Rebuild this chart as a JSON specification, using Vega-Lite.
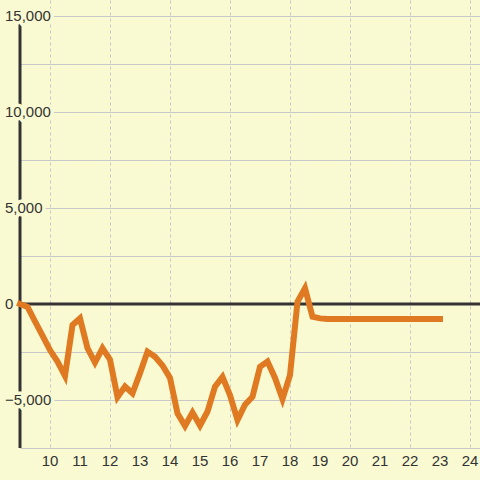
{
  "$schema": "https://vega.github.io/schema/vega-lite/v6.json",
  "width": 460,
  "height": 448,
  "autosize": {"type": "none"},
  "padding": {"left": 20, "top": 0, "right": 0, "bottom": 32},
  "background": "#fafad2",
  "config": {
    "view": {"stroke": null},
    "font": "Liberation Sans"
  },
  "datasets": {
    "series": [
      {"t": 9.0, "v": 0}, {"t": 9.25, "v": -150}, {"t": 9.5, "v": -900}, {"t": 9.75, "v": -1650},
      {"t": 10.0, "v": -2400}, {"t": 10.25, "v": -3000}, {"t": 10.5, "v": -3750}, {"t": 10.75, "v": -1100},
      {"t": 11.0, "v": -750}, {"t": 11.25, "v": -2300}, {"t": 11.5, "v": -3050}, {"t": 11.75, "v": -2300},
      {"t": 12.0, "v": -2900}, {"t": 12.25, "v": -4850}, {"t": 12.5, "v": -4300}, {"t": 12.75, "v": -4650},
      {"t": 13.0, "v": -3600}, {"t": 13.25, "v": -2480}, {"t": 13.5, "v": -2750}, {"t": 13.75, "v": -3200},
      {"t": 14.0, "v": -3850}, {"t": 14.25, "v": -5700}, {"t": 14.5, "v": -6350}, {"t": 14.75, "v": -5650},
      {"t": 15.0, "v": -6330}, {"t": 15.25, "v": -5600}, {"t": 15.5, "v": -4300}, {"t": 15.75, "v": -3800},
      {"t": 16.0, "v": -4750}, {"t": 16.25, "v": -6050}, {"t": 16.5, "v": -5250}, {"t": 16.75, "v": -4830},
      {"t": 17.0, "v": -3270}, {"t": 17.25, "v": -3000}, {"t": 17.5, "v": -3850}, {"t": 17.75, "v": -4950},
      {"t": 18.0, "v": -3700}, {"t": 18.25, "v": 120}, {"t": 18.5, "v": 820}, {"t": 18.75, "v": -660},
      {"t": 19.0, "v": -750}, {"t": 19.25, "v": -780}, {"t": 19.5, "v": -780}, {"t": 19.75, "v": -780},
      {"t": 20.0, "v": -780}, {"t": 20.25, "v": -780}, {"t": 20.5, "v": -780}, {"t": 20.75, "v": -780},
      {"t": 21.0, "v": -780}, {"t": 21.25, "v": -780}, {"t": 21.5, "v": -780}, {"t": 21.75, "v": -780},
      {"t": 22.0, "v": -780}, {"t": 22.25, "v": -780}, {"t": 22.5, "v": -780}, {"t": 22.75, "v": -780},
      {"t": 23.0, "v": -780}
    ],
    "yticks": [{"v": 15000}, {"v": 10000}, {"v": 5000}, {"v": 0}, {"v": -5000}],
    "xticks": [{"t": 10}, {"t": 11}, {"t": 12}, {"t": 13}, {"t": 14}, {"t": 15}, {"t": 16}, {"t": 17}, {"t": 18}, {"t": 19}, {"t": 20}, {"t": 21}, {"t": 22}, {"t": 23}, {"t": 24}],
    "one": [{}]
  },
  "layer": [
    {
      "data": {"name": "series"},
      "mark": {"type": "line", "opacity": 0},
      "encoding": {
        "x": {
          "field": "t", "type": "quantitative",
          "scale": {"domain": [9, 24.3333], "nice": false, "zero": false},
          "axis": {
            "values": [10, 11, 12, 13, 14, 15, 16, 17, 18, 19, 20, 21, 22, 23, 24],
            "labels": false,
            "title": null, "domain": false, "ticks": false,
            "grid": true, "gridColor": "#c8c8c8", "gridDash": [3, 3], "gridWidth": 1
          }
        },
        "y": {
          "field": "v", "type": "quantitative",
          "scale": {"domain": [-7500, 15833], "nice": false, "zero": false},
          "axis": {
            "values": [-7500, -5000, -2500, 0, 2500, 5000, 7500, 10000, 12500, 15000],
            "title": null, "domain": false, "ticks": false, "labels": false,
            "grid": true, "gridColor": "#c8c8c8", "gridWidth": 1
          }
        }
      }
    },
    {
      "data": {"name": "one"},
      "mark": {"type": "rule", "color": "#333333", "strokeWidth": 3},
      "encoding": {
        "x": {"datum": 9, "type": "quantitative"},
        "y": {"datum": -7500, "type": "quantitative"},
        "y2": {"datum": 15000}
      }
    },
    {
      "data": {"name": "one"},
      "mark": {"type": "rule", "color": "#333333", "strokeWidth": 3},
      "encoding": {
        "y": {"datum": 0, "type": "quantitative"}
      }
    },
    {
      "data": {"name": "yticks"},
      "mark": {"type": "text", "align": "left", "baseline": "middle", "dx": -15, "font": "Liberation Sans", "fontSize": 15, "stroke": "#fafad2", "strokeWidth": 7, "fill": "#fafad2", "strokeJoin": "round"},
      "encoding": {
        "x": {"datum": 9, "type": "quantitative"},
        "y": {"field": "v", "type": "quantitative"},
        "text": {"field": "v", "type": "quantitative", "format": ","}
      }
    },
    {
      "data": {"name": "yticks"},
      "mark": {"type": "text", "align": "left", "baseline": "middle", "dx": -15, "font": "Liberation Sans", "fontSize": 15, "fill": "#333333"},
      "encoding": {
        "x": {"datum": 9, "type": "quantitative"},
        "y": {"field": "v", "type": "quantitative"},
        "text": {"field": "v", "type": "quantitative", "format": ","}
      }
    },
    {
      "data": {"name": "xticks"},
      "mark": {"type": "text", "align": "center", "baseline": "middle", "dy": 13, "font": "Liberation Sans", "fontSize": 15, "fill": "#333333"},
      "encoding": {
        "x": {"field": "t", "type": "quantitative"},
        "y": {"datum": -7500, "type": "quantitative"},
        "text": {"field": "t", "type": "quantitative", "format": "d"}
      }
    },
    {
      "data": {"name": "series"},
      "mark": {"type": "line", "color": "#df7a22", "strokeWidth": 6, "strokeCap": "square", "strokeJoin": "miter"},
      "encoding": {
        "x": {"field": "t", "type": "quantitative"},
        "y": {"field": "v", "type": "quantitative"}
      }
    }
  ]
}
